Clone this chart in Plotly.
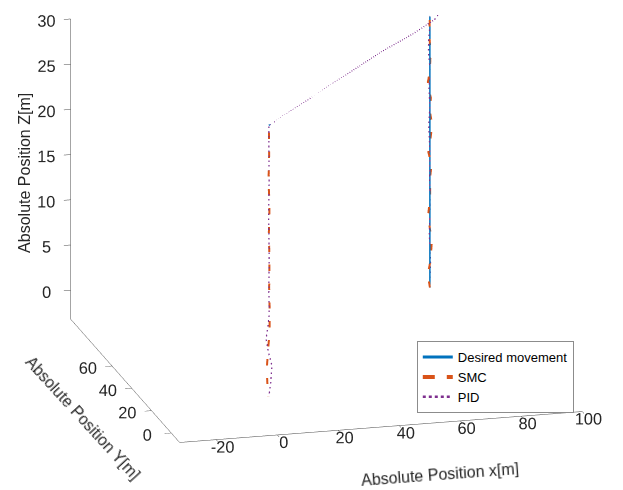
import plotly.graph_objects as go

# Reference path: climb at the start pad, cruise at 30 m, then hover over the landing pad
desired_x = [79, 79, 79, 0]
desired_y = [81, 81, 81, 0]
desired_z = [0, 15, 30, 30]

# Sliding-mode controller response
smc_x = [79, 78.3, 79.2, 79.6, 79.0, 78.4, 79.1, 79.0, 79.5, 78.5, 79.2, 79.7, 79.0, 79.3, 78.2, 79.0, 79.2, 78.8, 79.0, 81.0,
         80.0, 60, 40, 20, 0,
         0.1, -0.1, 0.2, 0.0, 0.2, 0.1, 0.3, 0.2, -0.3, -0.7, -0.5, -0.2]
smc_y = [81, 81, 81, 81, 81, 81, 81, 81, 81, 81, 81, 81, 81, 81, 81, 81, 81, 81, 81, 81.5,
         81, 61, 40.5, 20.3, 0,
         0, 0, 0, 0, 0, 0, 0, 0, 0, 0, 0, 0]
smc_z = [0, 1.5, 3, 5, 6.5, 8, 10, 12, 13.5, 15, 16.5, 18, 19.5, 21, 22.5, 24, 26, 28, 30, 30.6,
         30.2, 30.2, 30.0, 30.1, 30,
         27, 24, 21, 18, 15, 12, 9, 7, 5, 3, 1.5, 0]

# PID controller response
pid_x = [79, 79.2, 78.8, 79.1, 78.9, 79.0, 78.6, 79.0, 78.7, 79.1, 78.5, 78.6, 79.0, 79.0,
         82.0, 84.0, 83.0, 80.5,
         70, 55, 40, 20, 0,
         0, 0.1, -0.1, 0.1, 0.0, 0.1, -0.3, -0.9, -0.2, 1.0, 0.6, 0.0]
pid_y = [81, 81, 81, 81, 81, 81, 81, 81, 81, 81, 81, 81, 81, 81,
         82.0, 82.5, 82.0, 81.0,
         71, 56, 40, 20, 0,
         0, 0, 0, 0, 0, 0, 0, 0, 0, 0, 0, 0]
pid_z = [0, 3, 6, 9, 12, 15, 18, 20, 22, 24, 26, 27.5, 29, 30,
         30.8, 31.2, 30.4, 29.6,
         29.5, 29.8, 30, 30, 30,
         27, 24, 20, 16, 12, 9, 7.8, 6.4, 5, 3.4, 1.5, 0]

x_ticks = [-20, 0, 20, 40, 60, 80, 100]
y_ticks = [0, 20, 40, 60]
z_ticks = [0, 5, 10, 15, 20, 25, 30]

FONT = "Liberation Sans, Arial, sans-serif"
INK = "#262626"
AXIS_LINE = "#4a4a4a"

fig = go.Figure()
fig.add_trace(go.Scatter3d(x=desired_x, y=desired_y, z=desired_z, mode="lines",
                           name="Desired movement",
                           line=dict(color="#0072BD", width=3)))
fig.add_trace(go.Scatter3d(x=smc_x, y=smc_y, z=smc_z, mode="lines", name="SMC",
                           line=dict(color="#D95319", width=4, dash="dash")))
fig.add_trace(go.Scatter3d(x=pid_x, y=pid_y, z=pid_z, mode="lines", name="PID",
                           line=dict(color="#7E2F8E", width=2.5, dash="dot")))


def axis(rng, ticks):
    return dict(
        title=dict(text=""),
        range=rng, tickvals=ticks, ticktext=[str(t) for t in ticks],
        tickfont=dict(family=FONT, size=14, color=INK), tickangle=0,
        showgrid=False, zeroline=False, showbackground=False,
        showline=True, linecolor=AXIS_LINE, linewidth=1,
        ticks="outside", ticklen=7, tickcolor=AXIS_LINE,
        showspikes=False, autorange=False,
    )


SCALE = 1.665
EYE = 1.5
view_dir = (-0.241, -0.925, 0.295)
center = (-0.068, -0.019, -0.116)

title_font = dict(family=FONT, size=16, color=INK)
axis_titles = [
    dict(text="Absolute Position x[m]", x=0.706, y=0.031, textangle=-4.3),
    dict(text="Absolute Position Y[m]", x=0.133, y=0.145, textangle=47.5),
    dict(text="Absolute Position Z[m]", x=0.040, y=0.647, textangle=-90),
]

fig.update_layout(
    width=623, height=490,
    margin=dict(l=0, r=0, t=0, b=0),
    paper_bgcolor="white",
    font=dict(family=FONT, color=INK),
    scene=dict(
        domain=dict(x=[0, 1], y=[0, 1]),
        xaxis=axis([-32, 100], x_ticks),
        yaxis=axis([-8.5, 102], y_ticks),
        zaxis=axis([-3.2, 30], z_ticks),
        aspectmode="manual",
        aspectratio=dict(x=SCALE * 1.02, y=SCALE * 1.06, z=0.77 * SCALE),
        camera=dict(
            projection=dict(type="orthographic"),
            eye=dict(x=center[0] + view_dir[0] * EYE,
                     y=center[1] + view_dir[1] * EYE,
                     z=center[2] + view_dir[2] * EYE),
            up=dict(x=0, y=0, z=1),
            center=dict(x=center[0], y=center[1], z=center[2]),
        ),
    ),
    annotations=[
        dict(text=t["text"], x=t["x"], y=t["y"], xref="paper", yref="paper",
             xanchor="center", yanchor="middle", textangle=t["textangle"],
             showarrow=False, font=title_font)
        for t in axis_titles
    ],
    legend=dict(
        x=0.669, y=0.304, xanchor="left", yanchor="top",
        bgcolor="white", bordercolor="#8c8c8c", borderwidth=1,
        font=dict(family=FONT, size=13, color="#000000"),
        tracegroupgap=0,
    ),
)

fig.write_html("out.html")
